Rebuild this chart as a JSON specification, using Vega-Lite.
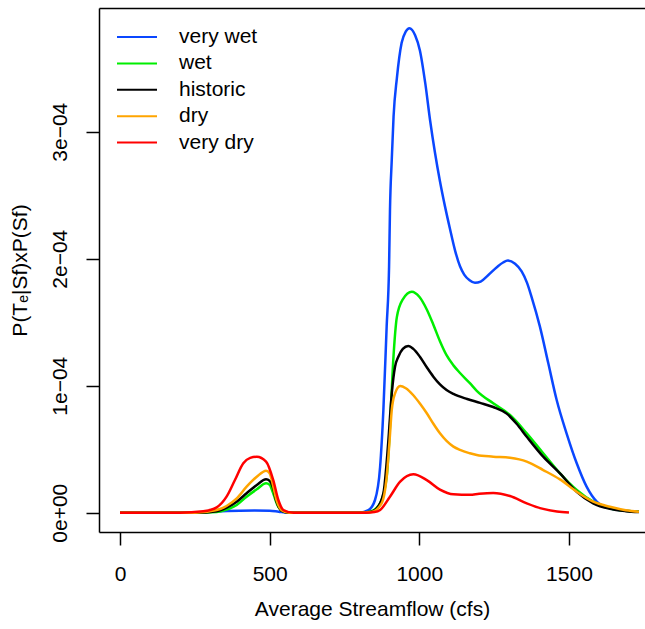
{
  "$schema": "https://vega.github.io/schema/vega-lite/v6.json",
  "width": 546,
  "height": 524,
  "autosize": {"type": "none"},
  "padding": {"left": 99, "top": 8, "right": 0, "bottom": 97},
  "background": "white",
  "config": {"view": {"stroke": null}, "font": "Liberation Sans"},
  "data": {"values": [
    {"scenario": "very wet", "flow": 0, "p": 0},
    {"scenario": "very wet", "flow": 250, "p": 0},
    {"scenario": "very wet", "flow": 320, "p": 1.0e-6},
    {"scenario": "very wet", "flow": 400, "p": 1.6e-6},
    {"scenario": "very wet", "flow": 450, "p": 1.7e-6},
    {"scenario": "very wet", "flow": 500, "p": 1.5e-6},
    {"scenario": "very wet", "flow": 530, "p": 0.8e-6},
    {"scenario": "very wet", "flow": 560, "p": 0.1e-6},
    {"scenario": "very wet", "flow": 600, "p": 0},
    {"scenario": "very wet", "flow": 800, "p": 0},
    {"scenario": "very wet", "flow": 830, "p": 0.02e-4},
    {"scenario": "very wet", "flow": 852, "p": 0.1e-4},
    {"scenario": "very wet", "flow": 869, "p": 0.36e-4},
    {"scenario": "very wet", "flow": 880, "p": 0.81e-4},
    {"scenario": "very wet", "flow": 891, "p": 1.47e-4},
    {"scenario": "very wet", "flow": 899, "p": 1.94e-4},
    {"scenario": "very wet", "flow": 902, "p": 2.38e-4},
    {"scenario": "very wet", "flow": 908, "p": 2.78e-4},
    {"scenario": "very wet", "flow": 914, "p": 3.12e-4},
    {"scenario": "very wet", "flow": 925, "p": 3.42e-4},
    {"scenario": "very wet", "flow": 941, "p": 3.70e-4},
    {"scenario": "very wet", "flow": 955, "p": 3.79e-4},
    {"scenario": "very wet", "flow": 967, "p": 3.815e-4},
    {"scenario": "very wet", "flow": 986, "p": 3.76e-4},
    {"scenario": "very wet", "flow": 1002, "p": 3.64e-4},
    {"scenario": "very wet", "flow": 1020, "p": 3.38e-4},
    {"scenario": "very wet", "flow": 1036, "p": 3.09e-4},
    {"scenario": "very wet", "flow": 1052, "p": 2.84e-4},
    {"scenario": "very wet", "flow": 1069, "p": 2.61e-4},
    {"scenario": "very wet", "flow": 1086, "p": 2.41e-4},
    {"scenario": "very wet", "flow": 1102, "p": 2.24e-4},
    {"scenario": "very wet", "flow": 1120, "p": 2.06e-4},
    {"scenario": "very wet", "flow": 1136, "p": 1.94e-4},
    {"scenario": "very wet", "flow": 1150, "p": 1.875e-4},
    {"scenario": "very wet", "flow": 1168, "p": 1.83e-4},
    {"scenario": "very wet", "flow": 1186, "p": 1.81e-4},
    {"scenario": "very wet", "flow": 1205, "p": 1.82e-4},
    {"scenario": "very wet", "flow": 1230, "p": 1.87e-4},
    {"scenario": "very wet", "flow": 1260, "p": 1.935e-4},
    {"scenario": "very wet", "flow": 1280, "p": 1.97e-4},
    {"scenario": "very wet", "flow": 1296, "p": 1.985e-4},
    {"scenario": "very wet", "flow": 1320, "p": 1.96e-4},
    {"scenario": "very wet", "flow": 1342, "p": 1.90e-4},
    {"scenario": "very wet", "flow": 1360, "p": 1.81e-4},
    {"scenario": "very wet", "flow": 1375, "p": 1.70e-4},
    {"scenario": "very wet", "flow": 1403, "p": 1.465e-4},
    {"scenario": "very wet", "flow": 1431, "p": 1.176e-4},
    {"scenario": "very wet", "flow": 1459, "p": 0.887e-4},
    {"scenario": "very wet", "flow": 1492, "p": 0.625e-4},
    {"scenario": "very wet", "flow": 1526, "p": 0.389e-4},
    {"scenario": "very wet", "flow": 1559, "p": 0.205e-4},
    {"scenario": "very wet", "flow": 1593, "p": 0.087e-4},
    {"scenario": "very wet", "flow": 1637, "p": 0.035e-4},
    {"scenario": "very wet", "flow": 1690, "p": 0.015e-4},
    {"scenario": "very wet", "flow": 1734, "p": 0.008e-4},

    {"scenario": "wet", "flow": 0, "p": 0},
    {"scenario": "wet", "flow": 250, "p": 0},
    {"scenario": "wet", "flow": 323, "p": 0.005e-4},
    {"scenario": "wet", "flow": 356, "p": 0.024e-4},
    {"scenario": "wet", "flow": 390, "p": 0.061e-4},
    {"scenario": "wet", "flow": 423, "p": 0.126e-4},
    {"scenario": "wet", "flow": 457, "p": 0.184e-4},
    {"scenario": "wet", "flow": 488, "p": 0.231e-4},
    {"scenario": "wet", "flow": 500, "p": 0.22e-4},
    {"scenario": "wet", "flow": 510, "p": 0.165e-4},
    {"scenario": "wet", "flow": 526, "p": 0.06e-4},
    {"scenario": "wet", "flow": 545, "p": 0.01e-4},
    {"scenario": "wet", "flow": 570, "p": 0},
    {"scenario": "wet", "flow": 800, "p": 0},
    {"scenario": "wet", "flow": 835, "p": 0.008e-4},
    {"scenario": "wet", "flow": 869, "p": 0.074e-4},
    {"scenario": "wet", "flow": 891, "p": 0.283e-4},
    {"scenario": "wet", "flow": 902, "p": 0.677e-4},
    {"scenario": "wet", "flow": 913, "p": 1.20e-4},
    {"scenario": "wet", "flow": 925, "p": 1.54e-4},
    {"scenario": "wet", "flow": 945, "p": 1.68e-4},
    {"scenario": "wet", "flow": 975, "p": 1.74e-4},
    {"scenario": "wet", "flow": 1000, "p": 1.70e-4},
    {"scenario": "wet", "flow": 1025, "p": 1.60e-4},
    {"scenario": "wet", "flow": 1047, "p": 1.48e-4},
    {"scenario": "wet", "flow": 1069, "p": 1.35e-4},
    {"scenario": "wet", "flow": 1091, "p": 1.24e-4},
    {"scenario": "wet", "flow": 1114, "p": 1.16e-4},
    {"scenario": "wet", "flow": 1136, "p": 1.10e-4},
    {"scenario": "wet", "flow": 1169, "p": 1.02e-4},
    {"scenario": "wet", "flow": 1192, "p": 0.96e-4},
    {"scenario": "wet", "flow": 1247, "p": 0.861e-4},
    {"scenario": "wet", "flow": 1303, "p": 0.769e-4},
    {"scenario": "wet", "flow": 1359, "p": 0.625e-4},
    {"scenario": "wet", "flow": 1414, "p": 0.468e-4},
    {"scenario": "wet", "flow": 1470, "p": 0.31e-4},
    {"scenario": "wet", "flow": 1526, "p": 0.179e-4},
    {"scenario": "wet", "flow": 1581, "p": 0.087e-4},
    {"scenario": "wet", "flow": 1637, "p": 0.035e-4},
    {"scenario": "wet", "flow": 1690, "p": 0.015e-4},
    {"scenario": "wet", "flow": 1734, "p": 0.008e-4},

    {"scenario": "historic", "flow": 0, "p": 0},
    {"scenario": "historic", "flow": 250, "p": 0},
    {"scenario": "historic", "flow": 323, "p": 0.012e-4},
    {"scenario": "historic", "flow": 356, "p": 0.04e-4},
    {"scenario": "historic", "flow": 390, "p": 0.087e-4},
    {"scenario": "historic", "flow": 423, "p": 0.153e-4},
    {"scenario": "historic", "flow": 457, "p": 0.218e-4},
    {"scenario": "historic", "flow": 488, "p": 0.263e-4},
    {"scenario": "historic", "flow": 500, "p": 0.25e-4},
    {"scenario": "historic", "flow": 510, "p": 0.205e-4},
    {"scenario": "historic", "flow": 523, "p": 0.087e-4},
    {"scenario": "historic", "flow": 540, "p": 0.015e-4},
    {"scenario": "historic", "flow": 565, "p": 0},
    {"scenario": "historic", "flow": 800, "p": 0},
    {"scenario": "historic", "flow": 835, "p": 0.005e-4},
    {"scenario": "historic", "flow": 858, "p": 0.035e-4},
    {"scenario": "historic", "flow": 880, "p": 0.153e-4},
    {"scenario": "historic", "flow": 896, "p": 0.546e-4},
    {"scenario": "historic", "flow": 908, "p": 0.94e-4},
    {"scenario": "historic", "flow": 919, "p": 1.15e-4},
    {"scenario": "historic", "flow": 930, "p": 1.228e-4},
    {"scenario": "historic", "flow": 945, "p": 1.29e-4},
    {"scenario": "historic", "flow": 963, "p": 1.313e-4},
    {"scenario": "historic", "flow": 980, "p": 1.29e-4},
    {"scenario": "historic", "flow": 1002, "p": 1.228e-4},
    {"scenario": "historic", "flow": 1025, "p": 1.145e-4},
    {"scenario": "historic", "flow": 1047, "p": 1.071e-4},
    {"scenario": "historic", "flow": 1069, "p": 1.01e-4},
    {"scenario": "historic", "flow": 1091, "p": 0.966e-4},
    {"scenario": "historic", "flow": 1114, "p": 0.935e-4},
    {"scenario": "historic", "flow": 1160, "p": 0.895e-4},
    {"scenario": "historic", "flow": 1203, "p": 0.865e-4},
    {"scenario": "historic", "flow": 1247, "p": 0.832e-4},
    {"scenario": "historic", "flow": 1292, "p": 0.78e-4},
    {"scenario": "historic", "flow": 1325, "p": 0.70e-4},
    {"scenario": "historic", "flow": 1359, "p": 0.598e-4},
    {"scenario": "historic", "flow": 1414, "p": 0.441e-4},
    {"scenario": "historic", "flow": 1470, "p": 0.31e-4},
    {"scenario": "historic", "flow": 1526, "p": 0.165e-4},
    {"scenario": "historic", "flow": 1581, "p": 0.074e-4},
    {"scenario": "historic", "flow": 1637, "p": 0.03e-4},
    {"scenario": "historic", "flow": 1690, "p": 0.012e-4},
    {"scenario": "historic", "flow": 1734, "p": 0.005e-4},

    {"scenario": "dry", "flow": 0, "p": 0},
    {"scenario": "dry", "flow": 250, "p": 0},
    {"scenario": "dry", "flow": 323, "p": 0.021e-4},
    {"scenario": "dry", "flow": 356, "p": 0.053e-4},
    {"scenario": "dry", "flow": 390, "p": 0.113e-4},
    {"scenario": "dry", "flow": 423, "p": 0.205e-4},
    {"scenario": "dry", "flow": 457, "p": 0.283e-4},
    {"scenario": "dry", "flow": 488, "p": 0.331e-4},
    {"scenario": "dry", "flow": 500, "p": 0.31e-4},
    {"scenario": "dry", "flow": 507, "p": 0.257e-4},
    {"scenario": "dry", "flow": 523, "p": 0.1e-4},
    {"scenario": "dry", "flow": 540, "p": 0.02e-4},
    {"scenario": "dry", "flow": 565, "p": 0},
    {"scenario": "dry", "flow": 800, "p": 0},
    {"scenario": "dry", "flow": 840, "p": 0.005e-4},
    {"scenario": "dry", "flow": 874, "p": 0.074e-4},
    {"scenario": "dry", "flow": 891, "p": 0.283e-4},
    {"scenario": "dry", "flow": 900, "p": 0.546e-4},
    {"scenario": "dry", "flow": 908, "p": 0.809e-4},
    {"scenario": "dry", "flow": 919, "p": 0.94e-4},
    {"scenario": "dry", "flow": 936, "p": 0.998e-4},
    {"scenario": "dry", "flow": 955, "p": 0.98e-4},
    {"scenario": "dry", "flow": 980, "p": 0.925e-4},
    {"scenario": "dry", "flow": 1002, "p": 0.86e-4},
    {"scenario": "dry", "flow": 1025, "p": 0.783e-4},
    {"scenario": "dry", "flow": 1047, "p": 0.70e-4},
    {"scenario": "dry", "flow": 1069, "p": 0.625e-4},
    {"scenario": "dry", "flow": 1091, "p": 0.565e-4},
    {"scenario": "dry", "flow": 1114, "p": 0.52e-4},
    {"scenario": "dry", "flow": 1136, "p": 0.494e-4},
    {"scenario": "dry", "flow": 1169, "p": 0.468e-4},
    {"scenario": "dry", "flow": 1192, "p": 0.454e-4},
    {"scenario": "dry", "flow": 1247, "p": 0.441e-4},
    {"scenario": "dry", "flow": 1303, "p": 0.432e-4},
    {"scenario": "dry", "flow": 1359, "p": 0.402e-4},
    {"scenario": "dry", "flow": 1414, "p": 0.336e-4},
    {"scenario": "dry", "flow": 1470, "p": 0.262e-4},
    {"scenario": "dry", "flow": 1526, "p": 0.165e-4},
    {"scenario": "dry", "flow": 1581, "p": 0.087e-4},
    {"scenario": "dry", "flow": 1637, "p": 0.047e-4},
    {"scenario": "dry", "flow": 1690, "p": 0.02e-4},
    {"scenario": "dry", "flow": 1734, "p": 0.008e-4},

    {"scenario": "very dry", "flow": 0, "p": 0},
    {"scenario": "very dry", "flow": 200, "p": 0},
    {"scenario": "very dry", "flow": 278, "p": 0.011e-4},
    {"scenario": "very dry", "flow": 323, "p": 0.042e-4},
    {"scenario": "very dry", "flow": 356, "p": 0.126e-4},
    {"scenario": "very dry", "flow": 384, "p": 0.257e-4},
    {"scenario": "very dry", "flow": 412, "p": 0.389e-4},
    {"scenario": "very dry", "flow": 435, "p": 0.432e-4},
    {"scenario": "very dry", "flow": 457, "p": 0.441e-4},
    {"scenario": "very dry", "flow": 488, "p": 0.402e-4},
    {"scenario": "very dry", "flow": 512, "p": 0.257e-4},
    {"scenario": "very dry", "flow": 529, "p": 0.1e-4},
    {"scenario": "very dry", "flow": 546, "p": 0.021e-4},
    {"scenario": "very dry", "flow": 580, "p": 0},
    {"scenario": "very dry", "flow": 820, "p": 0},
    {"scenario": "very dry", "flow": 850, "p": 0.005e-4},
    {"scenario": "very dry", "flow": 869, "p": 0.021e-4},
    {"scenario": "very dry", "flow": 902, "p": 0.126e-4},
    {"scenario": "very dry", "flow": 936, "p": 0.244e-4},
    {"scenario": "very dry", "flow": 980, "p": 0.302e-4},
    {"scenario": "very dry", "flow": 1025, "p": 0.257e-4},
    {"scenario": "very dry", "flow": 1069, "p": 0.182e-4},
    {"scenario": "very dry", "flow": 1114, "p": 0.145e-4},
    {"scenario": "very dry", "flow": 1169, "p": 0.141e-4},
    {"scenario": "very dry", "flow": 1200, "p": 0.149e-4},
    {"scenario": "very dry", "flow": 1247, "p": 0.155e-4},
    {"scenario": "very dry", "flow": 1303, "p": 0.131e-4},
    {"scenario": "very dry", "flow": 1359, "p": 0.074e-4},
    {"scenario": "very dry", "flow": 1414, "p": 0.03e-4},
    {"scenario": "very dry", "flow": 1460, "p": 0.01e-4},
    {"scenario": "very dry", "flow": 1500, "p": 0.002e-4}
  ]},
  "layer": [
    {
      "mark": {"type": "line", "strokeWidth": 2.5, "interpolate": "monotone"},
      "encoding": {
        "x": {
          "field": "flow", "type": "quantitative",
          "scale": {"domain": [-70.2, 1754.1], "nice": false, "zero": false},
          "axis": {
            "orient": "bottom", "values": [0, 500, 1000, 1500], "format": "d",
            "grid": false, "domain": true, "domainColor": "black", "domainWidth": 1.5,
            "ticks": true, "tickSize": 13, "tickColor": "black", "tickWidth": 1.5,
            "labelFontSize": 21, "labelColor": "black", "labelPadding": 18, "labelFlush": false,
            "title": "Average Streamflow (cfs)", "titleFontSize": 21, "titleFontWeight": "normal",
            "titleColor": "black", "titlePadding": 14
          }
        },
        "y": {
          "field": "p", "type": "quantitative",
          "scale": {"domain": [-0.0000152, 0.0003974], "nice": false, "zero": false},
          "axis": {
            "orient": "left", "values": [0, 0.0001, 0.0002, 0.0003],
            "labelExpr": "datum.value == 0 ? '0e+00' : round(datum.value * 10000) + 'e−04'",
            "grid": false, "domain": true, "domainColor": "black", "domainWidth": 1.5,
            "ticks": true, "tickSize": 13, "tickColor": "black", "tickWidth": 1.5,
            "labelFontSize": 21, "labelColor": "black", "labelAngle": -90,
            "labelAlign": "center", "labelBaseline": "alphabetic", "labelPadding": 20, "labelFlush": false,
            "title": "P(Tₑ|Sf)xP(Sf)", "titleFontSize": 21, "titleFontWeight": "normal",
            "titleColor": "black", "titlePadding": 19
          }
        },
        "color": {
          "field": "scenario", "type": "nominal",
          "scale": {
            "domain": ["very wet", "wet", "historic", "dry", "very dry"],
            "range": ["#0a47ff", "#00ee00", "#000000", "#ffa500", "#ff0000"]
          },
          "legend": {
            "orient": "none", "legendX": 27, "legendY": 18, "title": null,
            "symbolType": "M-2,0H2", "symbolSize": 400, "symbolStrokeWidth": 2,
            "labelFontSize": 21, "labelColor": "black", "labelOffset": 31,
            "rowPadding": 5.4, "padding": 0
          }
        }
      }
    },
    {
      "mark": {"type": "line", "opacity": 0},
      "encoding": {
        "x": {
          "field": "flow", "type": "quantitative",
          "axis": {
            "orient": "top", "labels": false, "ticks": false, "grid": false,
            "domain": true, "domainColor": "black", "domainWidth": 1.5, "title": null
          }
        },
        "y": {"field": "p", "type": "quantitative"}
      }
    }
  ],
  "resolve": {"axis": {"x": "independent"}}
}
